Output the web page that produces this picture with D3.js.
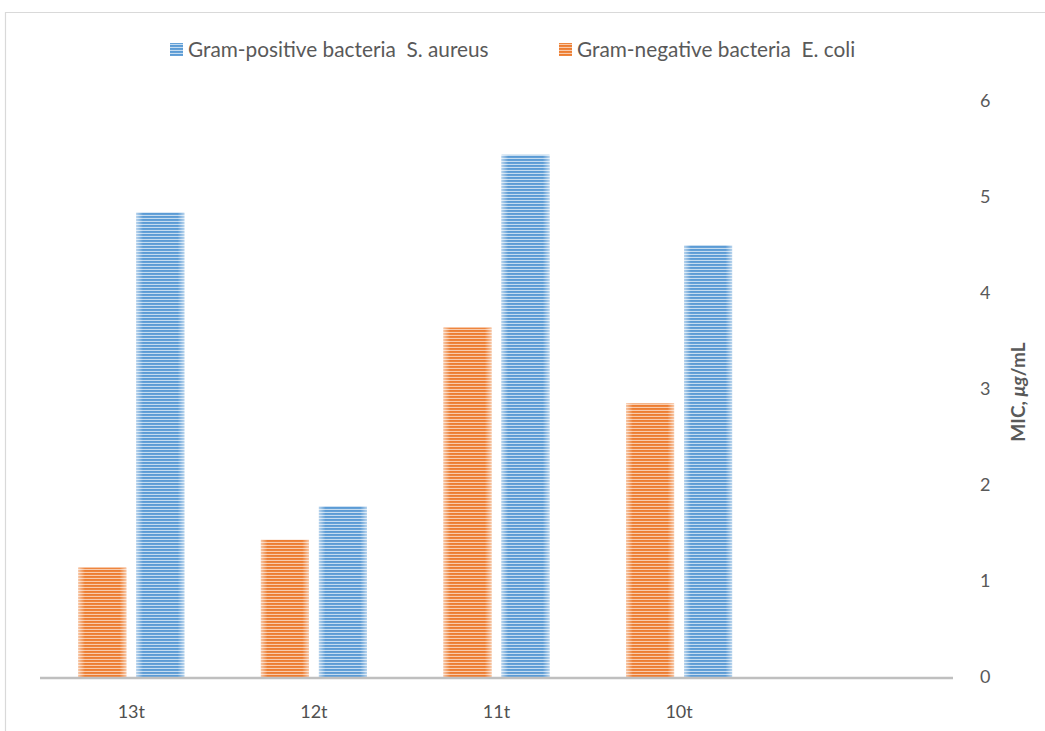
<!DOCTYPE html>
<html><head><meta charset="utf-8">
<script src="https://cdn.jsdelivr.net/npm/d3@7"></script>
<style>body{margin:0;background:#fff;} svg{display:block;} text{white-space:pre;}</style>
</head><body>
<svg id="c" width="1045" height="731"></svg>
<script>
const categories = ["13t", "12t", "11t", "10t", ""];
const gramNegative = [1.14, 1.43, 3.64, 2.85, null]; // E. coli
const gramPositive = [4.84, 1.78, 5.44, 4.50, null]; // S. aureus
const yTicks = [0, 1, 2, 3, 4, 5, 6];
const seriesNames = ["Gram-negative bacteria  E. coli", "Gram-positive bacteria  S. aureus"];
const legendOrder = [1, 0];
const colors = [{dark:"#ED7D31", light:"#F8CBAD"}, {dark:"#5B9BD5", light:"#C5DCF0"}];

const svg = d3.select("#c");
const font = "Lato, 'Open Sans', sans-serif";

// chart border
svg.append("path").attr("d","M5.5,740 V12.5 H1050").attr("fill","none").attr("stroke","#D9D9D9").attr("stroke-width",1.2);

const defs = svg.append("defs");
colors.forEach((c,i)=>{
  const p = defs.append("pattern").attr("id","pat"+i).attr("patternUnits","userSpaceOnUse").attr("width",8).attr("height",3);
  p.append("rect").attr("width",8).attr("height",3).attr("fill",c.light);
  p.append("rect").attr("width",8).attr("height",1.9).attr("fill",c.dark);
});
const g = defs.append("linearGradient").attr("id","edge").attr("x1","0").attr("x2","1");
[[0,0.55],[0.14,0],[0.86,0],[1,0.55]].forEach(([o,a])=>g.append("stop").attr("offset",o).attr("stop-color","#fff").attr("stop-opacity",a));

const x0 = d3.scaleBand().domain(categories.map((d,i)=>i)).range([40,953]).paddingInner(0).paddingOuter(0);
const y = d3.scaleLinear().domain([0,6]).range([677,101]);
const barW = 48, gap = 10;

const series = [gramNegative, gramPositive];
series.forEach((vals,si)=>{
  const grp = svg.append("g");
  vals.forEach((v,i)=>{
    if(v==null) return;
    const cx = x0(i) + x0.bandwidth()/2;
    const bx = si===0 ? cx - gap/2 - barW : cx + gap/2;
    grp.append("rect").attr("x",bx).attr("y",y(v)).attr("width",barW).attr("height",y(0)-y(v)).attr("fill",`url(#pat${si})`);
    grp.append("rect").attr("x",bx).attr("y",y(v)).attr("width",barW).attr("height",y(0)-y(v)).attr("fill","url(#edge)");
  });
});

// x axis line
svg.append("line").attr("x1",40).attr("x2",953).attr("y1",y(0)+1).attr("y2",y(0)+1).attr("stroke","#BFBFBF").attr("stroke-width",2.5);

// category labels
svg.append("g").selectAll("text").data(categories).join("text")
  .attr("x",(d,i)=>x0(i)+x0.bandwidth()/2).attr("y",718)
  .attr("text-anchor","middle").attr("font-family",font).attr("font-size",18).attr("fill","#505050")
  .text(d=>d);

// y axis (right) via d3 axis
const ax = svg.append("g").attr("transform","translate(980,0)")
  .call(d3.axisRight(y).tickValues(yTicks).tickFormat(d3.format("d")).tickSize(0).tickPadding(0));
ax.select(".domain").remove();
ax.selectAll("text").attr("font-family",font).attr("font-size",18).attr("fill","#595959");

// y axis title
const t = svg.append("text").attr("transform","translate(1025,392) rotate(-90)")
  .attr("text-anchor","middle").attr("font-family",font).attr("font-size",19).attr("font-weight","bold").attr("fill","#595959");
t.append("tspan").text("MIC, ");
t.append("tspan").attr("font-style","italic").text("μg");
t.append("tspan").text("/mL");

// legend
const legX = [170, 559];
legendOrder.forEach((si,k)=>{
  const lg = svg.append("g").attr("transform",`translate(${legX[k]},0)`);
  lg.append("rect").attr("x",0).attr("y",43).attr("width",13).attr("height",13).attr("fill",`url(#pat${si})`);
  lg.append("text").attr("x",18).attr("y",57).attr("font-family",font).attr("font-size",20.8).attr("fill","#595959").text(seriesNames[si]);
});
</script>
</body></html>
